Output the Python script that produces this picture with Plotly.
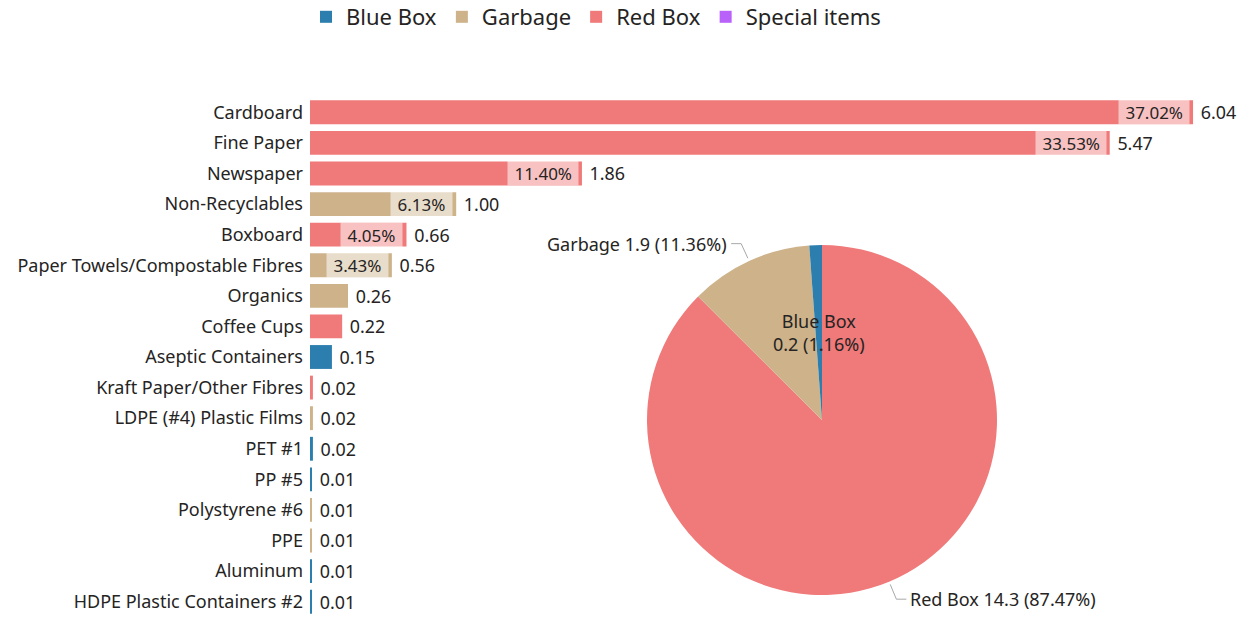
import math
import plotly.graph_objects as go

# ---------------- data ----------------
categories = ["Cardboard", "Fine Paper", "Newspaper", "Non-Recyclables", "Boxboard",
              "Paper Towels/Compostable Fibres", "Organics", "Coffee Cups", "Aseptic Containers",
              "Kraft Paper/Other Fibres", "LDPE (#4) Plastic Films", "PET #1", "PP #5",
              "Polystyrene #6", "PPE", "Aluminum", "HDPE Plastic Containers #2"]
values = [6.04, 5.47, 1.86, 1.00, 0.66, 0.56, 0.26, 0.22, 0.15, 0.02, 0.02, 0.02, 0.01,
          0.01, 0.01, 0.01, 0.01]
groups = ["Red Box", "Red Box", "Red Box", "Garbage", "Red Box", "Garbage", "Garbage", "Red Box",
          "Blue Box", "Red Box", "Garbage", "Blue Box", "Blue Box", "Garbage", "Garbage",
          "Blue Box", "Blue Box"]
pct_labels = ["37.02%", "33.53%", "11.40%", "6.13%", "4.05%", "3.43%", None, None, None,
              None, None, None, None, None, None, None, None]

legend_order = ["Blue Box", "Garbage", "Red Box", "Special items"]
colors = {"Blue Box": "#2B7EAD", "Garbage": "#CDB28A", "Red Box": "#F07979",
          "Special items": "#B862FA"}

pie_labels = ["Red Box", "Garbage", "Blue Box"]
pie_shares = [87.47, 11.36, 1.16]
pie_amounts = [14.3, 1.9, 0.2]

# ---------------- layout geometry ----------------
W, H = 1245, 617
ML, MR, MT, MB = 310, 0, 97, 0
PW, PH = W - ML - MR, H - MT - MB
FONT = "Noto Sans"
TXT = "#252423"


def px2x(px):
    return (px - ML) / PW


def py2y(py):
    return 1 - (py - MT) / PH


fig = go.Figure()

for g in legend_order:
    xs = [v for v, gg in zip(values, groups) if gg == g]
    ys = [c for c, gg in zip(categories, groups) if gg == g]
    if not xs:
        # legend-only group (no bars in this chart)
        fig.add_trace(go.Bar(x=[0], y=[categories[0]], orientation="h", name=g,
                             marker=dict(color=colors[g], line=dict(width=0)),
                             hoverinfo="skip"))
        continue
    fig.add_trace(go.Bar(
        x=xs, y=ys, orientation="h", name=g,
        marker=dict(color=colors[g], line=dict(width=0)),
        text=[f" {v:.2f}" for v in xs], textposition="outside",
        textfont=dict(size=18, color=TXT, family=FONT),
        cliponaxis=False, hoverinfo="x+y",
    ))

# percentage labels inside bar ends
for c, v, p, g in zip(categories, values, pct_labels, groups):
    if p:
        fig.add_annotation(x=v, y=c, xref="x", yref="y", text=f" {p} ", showarrow=False,
                           xanchor="right", yanchor="middle", xshift=-3, height=20,
                           bgcolor="rgba(255,255,255,0.55)", borderpad=2,
                           font=dict(size=17, color=TXT, family=FONT))

# pie
cx, cy, R = 822, 420, 175
fig.add_trace(go.Pie(
    labels=pie_labels, values=pie_shares, sort=False, direction="clockwise", rotation=0,
    marker=dict(colors=[colors[l] for l in pie_labels], line=dict(width=0)),
    textinfo="none", showlegend=False, hoverinfo="label+percent",
    domain=dict(x=[px2x(cx - R), px2x(cx + R)], y=[py2y(cy + R), py2y(cy - R)]),
))

tot = sum(pie_shares)
cum = 0
for lab, s, amt in zip(pie_labels, pie_shares, pie_amounts):
    mid = (cum + s / 2) / tot * 2 * math.pi
    cum += s
    sx, sy = math.sin(mid), -math.cos(mid)
    text = f"{lab} {amt} ({s:.2f}%)"
    if lab == "Blue Box":
        fig.add_annotation(x=px2x(cx + 0.5 * R * sx), y=py2y(cy + 0.5 * R * sy),
                           xref="paper", yref="paper", showarrow=False,
                           xanchor="center", yanchor="middle",
                           text=f"{lab}<br>{amt} ({s:.2f}%)", align="center",
                           font=dict(size=18, color=TXT, family=FONT))
        continue
    p1 = (cx + (R + 3) * sx, cy + (R + 3) * sy)
    p2 = (cx + (R + 19) * sx, cy + (R + 19) * sy)
    side = 1 if sx > 0 else -1
    p3 = (p2[0] + 10 * side, p2[1])
    fig.add_shape(type="path", xref="paper", yref="paper",
                  path=f"M{px2x(p1[0])},{py2y(p1[1])} L{px2x(p2[0])},{py2y(p2[1])} "
                       f"L{px2x(p3[0])},{py2y(p3[1])}",
                  line=dict(color="#A8A8A8", width=1))
    fig.add_annotation(x=px2x(p3[0] + 2 * side), y=py2y(p3[1]), xref="paper", yref="paper",
                       showarrow=False, text=text, yanchor="middle",
                       xanchor="left" if side > 0 else "right",
                       font=dict(size=18, color=TXT, family=FONT))

fig.update_layout(
    width=W, height=H, margin=dict(l=ML, r=MR, t=MT, b=MB, pad=0, autoexpand=False),
    paper_bgcolor="white", plot_bgcolor="white",
    barmode="overlay", bargap=0.22,
    font=dict(family=FONT, color=TXT),
    xaxis=dict(visible=False, range=[0, PW / 146.2], fixedrange=True),
    yaxis=dict(categoryorder="array", categoryarray=categories, autorange="reversed",
               showgrid=False, zeroline=False, showline=False, ticks="",
               tickfont=dict(size=18, color=TXT, family=FONT), ticklabelstandoff=6),
    legend=dict(orientation="h", xref="paper", yref="paper", x=px2x(596), y=py2y(-4),
                xanchor="center", yanchor="top", font=dict(size=22, color=TXT, family=FONT),
                itemwidth=30, traceorder="normal"),
)

fig.write_html("out.html", config={"displayModeBar": False},
               post_script="document.body.style.margin='0';")
